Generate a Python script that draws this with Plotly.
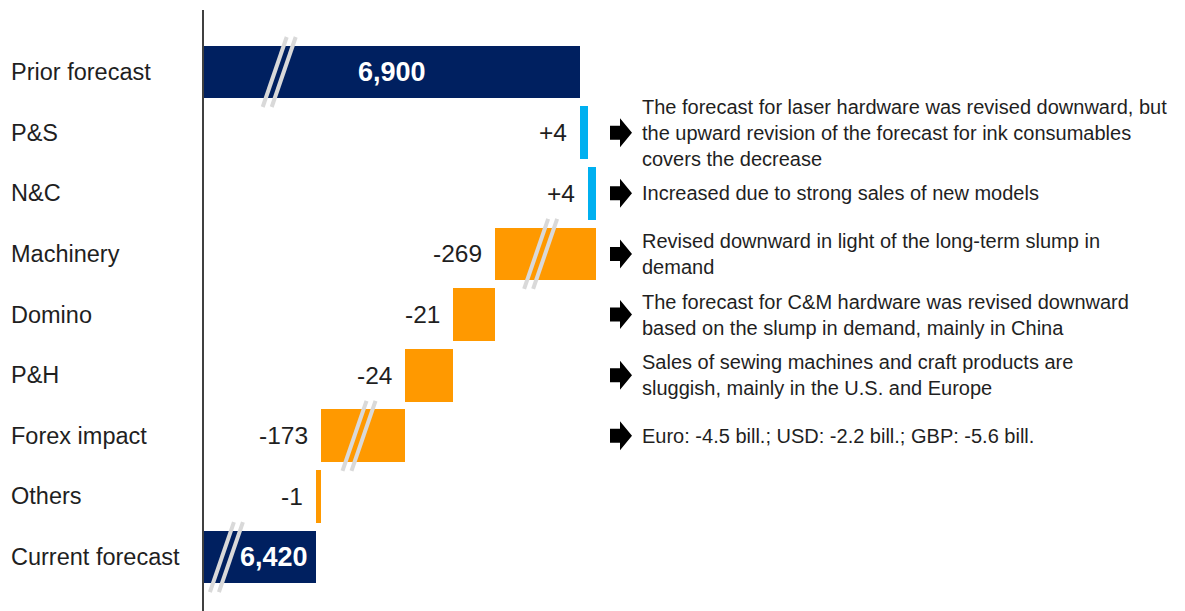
import plotly.graph_objects as go

# ---------------- data ----------------
categories = ["Prior forecast", "P&S", "N&C", "Machinery", "Domino", "P&H",
              "Forex impact", "Others", "Current forecast"]
prior_forecast = 6900
current_forecast = 6420
changes = [4, 4, -269, -21, -24, -173, -1]          # P&S .. Others
comments = [
    "The forecast for laser hardware was revised downward, but<br>the upward revision of the forecast for ink consumables<br>covers the decrease",
    "Increased due to strong sales of new models",
    "Revised downward in light of the long-term slump in<br>demand",
    "The forecast for C&M hardware was revised downward<br>based on the slump in demand, mainly in China",
    "Sales of sewing machines and craft products are<br>sluggish, mainly in the U.S. and Europe",
    "Euro: -4.5 bill.; USD: -2.2 bill.; GBP: -5.6 bill.",
]

# ---------------- styling ----------------
NAVY = "#002060"
ORANGE = "#FF9900"
LIGHTBLUE = "#00B0F0"
BREAK_GREY = "#D9D9D9"
TEXT = "#1F1F1F"
FONT = "Liberation Sans, Arial, sans-serif"

# broken-axis display (the chart is drawn with axis breaks, not to scale)
AXIS_HIDDEN = 6712      # part of the value axis cut away by the break on totals
BREAK_AT = 30           # changes larger than this are drawn with a break
BREAK_RATIO = 0.085     # compression applied beyond the break
MIN_LEN = 2.5


def shown(v):
    a = abs(v)
    if a > BREAK_AT:
        a = BREAK_AT + (a - BREAK_AT) * BREAK_RATIO
    a = max(a, MIN_LEN)
    return a if v >= 0 else -a


n = len(categories)
ys = list(range(n))

bases, lengths, colors, broken = [], [], [], []
pos = prior_forecast - AXIS_HIDDEN
bases.append(0)
lengths.append(pos)
colors.append(NAVY)
broken.append(0.2)
for c in changes:
    d = shown(c)
    bases.append(pos)
    lengths.append(d)
    colors.append(LIGHTBLUE if c > 0 else ORANGE)
    broken.append(0.45 if abs(c) > BREAK_AT else None)
    pos += d
bases.append(0)
lengths.append(pos)
colors.append(NAVY)
broken.append(0.2)

fig = go.Figure()
fig.add_trace(go.Bar(
    y=ys, x=lengths, base=bases, orientation="h",
    marker=dict(color=colors, line=dict(width=0)),
    width=0.87, hoverinfo="skip", showlegend=False,
))

annotations = []
shapes = []

# page has an 8px body margin, so the figure is 8px smaller than the window
FIG_W, FIG_H = 1177, 603
M_L, M_T = 196, 2
PLOT_W = FIG_W - M_L

# category labels
for i, cat in enumerate(categories):
    annotations.append(dict(
        x=(9 - 204) / PLOT_W, xref="paper", y=i, yref="y",
        text=cat, showarrow=False, xanchor="left", yanchor="middle",
        font=dict(family=FONT, size=23.5, color=TEXT)))

# total labels
for i, val in [(0, prior_forecast), (n - 1, current_forecast)]:
    L = lengths[i]
    if L > 150:
        annotations.append(dict(x=bases[i] + L / 2, y=i, text=f"<b>{val:,}</b>",
                                showarrow=False, xanchor="center",
                                font=dict(family=FONT, size=27, color="white")))
    else:
        annotations.append(dict(x=bases[i] + L, y=i, text=f"<b>{val:,}</b>",
                                showarrow=False, xanchor="right", xshift=-6,
                                font=dict(family=FONT, size=27, color="white")))

# change labels
for k, c in enumerate(changes):
    i = k + 1
    left = min(bases[i], bases[i] + lengths[i])
    annotations.append(dict(x=left, y=i, text=f"{c:+d}", showarrow=False,
                            xanchor="right", xshift=-11,
                            font=dict(family=FONT, size=24.5, color=TEXT)))

# comments with arrows
ARROW_X = (621 - 204) / PLOT_W
TEXT_X = (640 - 204) / PLOT_W
arrow_path = "M -11,-7 L -1,-7 L -1,-14.5 L 11,0 L -1,14.5 L -1,7 L -11,7 Z"
for k, txt in enumerate(comments):
    i = k + 1
    annotations.append(dict(x=TEXT_X, xref="paper", y=i, text=txt, showarrow=False,
                            xanchor="left", yanchor="middle", align="left",
                            font=dict(family=FONT, size=20, color=TEXT)))
    shapes.append(dict(type="path", xref="paper", yref="y",
                       xsizemode="pixel", ysizemode="pixel",
                       xanchor=ARROW_X, yanchor=i, path=arrow_path,
                       fillcolor="black", line=dict(width=0)))

# break marks
for i in range(n):
    f = broken[i]
    if f is None:
        continue
    left = min(bases[i], bases[i] + lengths[i])
    bx = left + abs(lengths[i]) * f
    for off in (-4.5, 4.5):
        shapes.append(dict(type="line", xref="x", yref="y",
                           xsizemode="pixel", ysizemode="pixel",
                           xanchor=bx, yanchor=i,
                           x0=off - 12, y0=-35, x1=off + 12, y1=35,
                           line=dict(color=BREAK_GREY, width=4)))

fig.update_layout(
    width=FIG_W, height=FIG_H,
    margin=dict(l=M_L, r=0, t=M_T, b=0),
    paper_bgcolor="white", plot_bgcolor="white",
    bargap=0,
    xaxis=dict(range=[0, PLOT_W / 2], visible=False, fixedrange=True),
    yaxis=dict(range=[n - 1 + 0.89, -1.023], showticklabels=False, showgrid=False,
               zeroline=False, showline=True, linecolor="#404040", linewidth=2,
               ticks=""),
    annotations=annotations,
    shapes=shapes,
    font=dict(family=FONT),
)

fig.write_html("out.html")
